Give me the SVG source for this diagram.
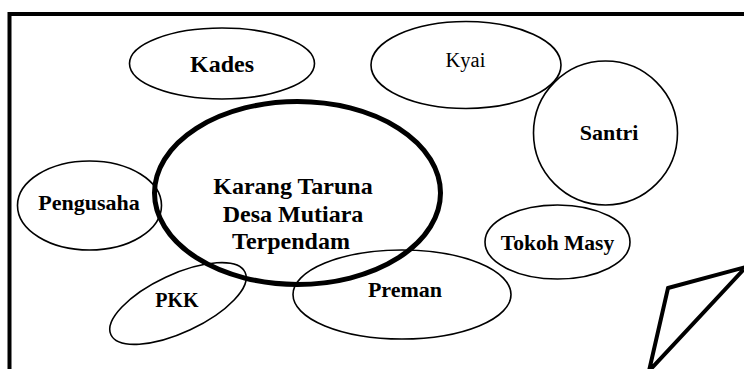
<svg xmlns="http://www.w3.org/2000/svg" width="744" height="369" viewBox="0 0 744 369">
<style>
.n{fill:none;stroke:#000;stroke-width:1.6}
.t{font-family:"Liberation Serif","Times New Roman",serif;font-weight:bold;fill:#000;text-anchor:middle}
</style>
<rect width="744" height="369" fill="#fff"/>
<g id="frame" fill="none" stroke="#000" stroke-width="4">
<path d="M9.5 372 V14 H748"/>
</g>
<g id="connectors"></g>
<g id="kades"><ellipse class="n" cx="222" cy="63.5" rx="92.5" ry="35.5"/><text class="t" x="222" y="72" font-size="24">Kades</text></g>
<g id="santri"><ellipse class="n" cx="605.5" cy="133" rx="72" ry="72"/><text class="t" x="609" y="140" font-size="22">Santri</text></g>
<g id="kyai"><ellipse class="n" cx="466" cy="65" rx="95" ry="43.5" style="fill:#fff"/><text class="t" x="465.5" y="67" font-size="20.5" style="font-weight:normal">Kyai</text></g>
<g id="pengusaha"><ellipse class="n" cx="89.5" cy="205.5" rx="72" ry="44.5"/><text class="t" x="89" y="210" font-size="22">Pengusaha</text></g>
<g id="tokoh"><ellipse class="n" cx="557.5" cy="242" rx="72.5" ry="37"/><text class="t" x="557.5" y="250" font-size="21.5">Tokoh Masy</text></g>
<g id="preman"><ellipse class="n" cx="402" cy="294.5" rx="109" ry="44.5"/><text class="t" x="405" y="297" font-size="22">Preman</text></g>
<g id="pkk"><ellipse class="n" cx="178" cy="303.5" rx="74" ry="29" transform="rotate(-25 178 303.5)"/><text class="t" x="177" y="307" font-size="20">PKK</text></g>
<g id="karang-taruna"><ellipse cx="297.5" cy="193" rx="143" ry="91.5" fill="none" stroke="#000" stroke-width="5"/>
<text class="t" font-size="24"><tspan x="293" y="194">Karang Taruna</tspan><tspan x="293" y="222">Desa Mutiara</tspan><tspan x="291" y="249">Terpendam</tspan></text></g>
<g id="shape"><path d="M668 288 L746 267 L649 371 Z" fill="none" stroke="#000" stroke-width="4" stroke-linejoin="miter"/></g>
</svg>
